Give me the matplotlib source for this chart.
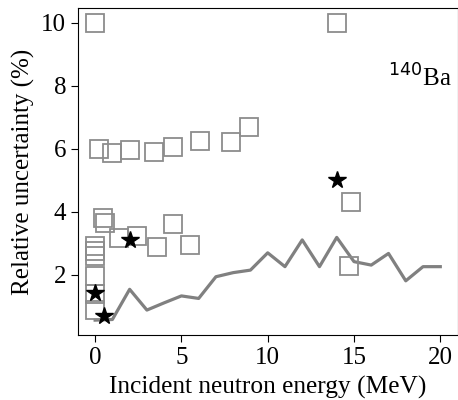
"""Relative uncertainty of the 140Ba yield vs incident neutron energy."""

import matplotlib

matplotlib.use("Agg")
from matplotlib import pyplot as plt

plt.rcParams["font.family"] = ["Liberation Serif", "DejaVu Serif"]
plt.rcParams["mathtext.fontset"] = "dejavusans"

# Evaluated uncertainty (line)
line_energy = [0, 1, 2, 3, 4, 5, 6, 7, 8, 9, 10, 11, 12, 13, 14, 15, 16, 17, 18, 19, 20]
line_unc = [0.55, 0.57, 1.53, 0.87, 1.1, 1.32, 1.24, 1.93, 2.06, 2.14, 2.69,
            2.25, 3.1, 2.25, 3.18, 2.41, 2.3, 2.67, 1.8, 2.25, 2.25]

# Experimental data (open squares)
exp_energy = [0, 0.2, 1.0, 2.0, 3.4, 4.5, 6.1, 7.9, 8.9, 14.0,
              0.48, 0.58, 1.4, 2.4, 3.6, 4.5, 5.5,
              0, 0, 0, 0, 0, 0, 14.8, 14.7]
exp_unc = [10.0, 6.0, 5.87, 5.97, 5.9, 6.05, 6.24, 6.2, 6.68, 10.0,
           3.8, 3.65, 3.17, 3.24, 2.88, 3.6, 2.93,
           2.91, 2.76, 2.59, 1.96, 1.37, 0.86, 4.29, 2.27]

# This work (stars)
star_energy = [0, 0.5, 2.0, 14.0]
star_unc = [1.4, 0.68, 3.1, 5.0]

fig = plt.figure(figsize=(4.58, 4.0), dpi=100)
ax = fig.add_axes([0.170, 0.1625, 0.829, 0.8175])

ax.plot(line_energy, line_unc, color="#808080", lw=2.3, zorder=2)
ax.plot(exp_energy, exp_unc, ls="none", marker="s", ms=12.5, mfc="none",
        mec="#8c8c8c", mew=1.3, zorder=3)
ax.plot(star_energy, star_unc, ls="none", marker="*", ms=13, color="black", zorder=4)

ax.text(0.984, 0.761, r"$^{140}$Ba", transform=ax.transAxes, ha="right",
        va="baseline", fontsize=18)

ax.set_xticks([0, 5, 10, 15, 20])
ax.set_yticks([2, 4, 6, 8, 10])
ax.tick_params(labelsize=18, length=5)
ax.set_xlabel("Incident neutron energy (MeV)", fontsize=18.3, labelpad=5)
ax.set_ylabel("Relative uncertainty (%)", fontsize=18, labelpad=4)

fig.savefig("out.png", dpi=100)
